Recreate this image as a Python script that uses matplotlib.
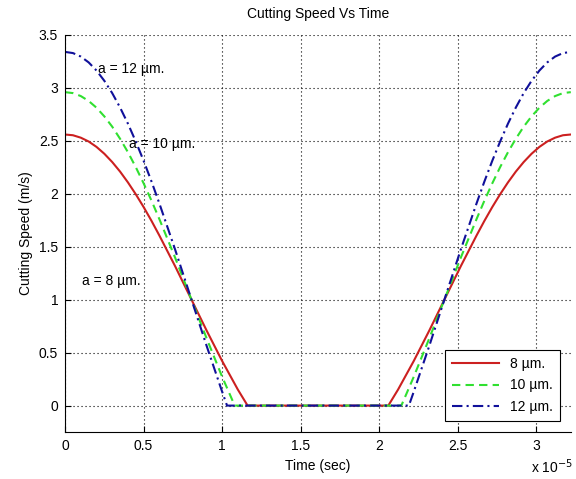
import numpy as np
import matplotlib
matplotlib.use('Agg')
from matplotlib import pyplot as plt
from matplotlib.ticker import FuncFormatter, MultipleLocator

plt.rcParams['font.family'] = ['Liberation Sans', 'DejaVu Sans']
plt.rcParams['font.size'] = 10

# time in units of 1e-5 s, speed in m/s
t_8  = [0, 0.05, 0.1, 0.15, 0.2, 0.25, 0.3, 0.35, 0.4, 0.45, 0.5, 0.55, 0.6, 0.7, 0.8, 0.9,
        1.0, 1.1, 1.162, 2.058, 2.12, 2.22, 2.32, 2.42, 2.52, 2.62, 2.67, 2.72, 2.77, 2.82,
        2.87, 2.92, 2.97, 3.02, 3.07, 3.12, 3.17, 3.22]
v_8  = [2.56, 2.553, 2.53, 2.494, 2.443, 2.378, 2.30, 2.21, 2.108, 1.996, 1.875, 1.745, 1.607,
        1.318, 1.015, 0.712, 0.421, 0.151, 0, 0, 0.151, 0.421, 0.712, 1.015, 1.318, 1.607,
        1.745, 1.875, 1.996, 2.108, 2.21, 2.30, 2.378, 2.443, 2.494, 2.53, 2.553, 2.56]

t_10 = [0, 0.05, 0.1, 0.15, 0.2, 0.25, 0.3, 0.35, 0.4, 0.45, 0.5, 0.55, 0.6, 0.7, 0.8, 0.9,
        1.0, 1.08, 2.141, 2.22, 2.32, 2.42, 2.52, 2.62, 2.67, 2.72, 2.77, 2.82, 2.87, 2.92,
        2.97, 3.02, 3.07, 3.12, 3.17, 3.22]
v_10 = [2.96, 2.951, 2.923, 2.877, 2.813, 2.731, 2.634, 2.52, 2.393, 2.252, 2.099, 1.936,
        1.762, 1.399, 1.019, 0.639, 0.272, 0, 0, 0.272, 0.639, 1.019, 1.399, 1.762, 1.936,
        2.099, 2.252, 2.393, 2.52, 2.634, 2.731, 2.813, 2.877, 2.923, 2.951, 2.96]

t_12 = [0, 0.05, 0.1, 0.15, 0.2, 0.25, 0.3, 0.35, 0.4, 0.45, 0.5, 0.55, 0.6, 0.7, 0.8, 0.9,
        1.0, 1.031, 2.189, 2.22, 2.32, 2.42, 2.52, 2.62, 2.67, 2.72, 2.77, 2.82, 2.87, 2.92,
        2.97, 3.02, 3.07, 3.12, 3.17, 3.22]
v_12 = [3.34, 3.329, 3.296, 3.241, 3.164, 3.067, 2.951, 2.815, 2.663, 2.494, 2.312, 2.117,
        1.91, 1.476, 1.023, 0.569, 0.131, 0, 0, 0.131, 0.569, 1.023, 1.476, 1.91, 2.117,
        2.312, 2.494, 2.663, 2.815, 2.951, 3.067, 3.164, 3.241, 3.296, 3.329, 3.34]

labels = ['8 \u00b5m.', '10 \u00b5m.', '12 \u00b5m.']
notes  = ['a = 8 \u00b5m.', 'a = 10 \u00b5m.', 'a = 12 \u00b5m.']
note_x = [0.106, 0.406, 0.209]
note_y = [1.18, 2.47, 3.18]

fig = plt.figure(figsize=(5.76, 4.79), dpi=100)
ax = fig.add_axes([0.113, 0.098, 0.878, 0.829])

ax.plot(np.array(t_8)*1e-5, v_8, color='#cc2020', lw=1.5, ls='-', label=labels[0])
ax.plot(np.array(t_10)*1e-5, v_10, color='#30e030', lw=1.5, dashes=[4, 2.5], label=labels[1])
ax.plot(np.array(t_12)*1e-5, v_12, color='#10109a', lw=1.5, dashes=[5, 2, 1, 2], label=labels[2])

for tx, ty, s in zip(note_x, note_y, notes):
    ax.text(tx*1e-5, ty, s, fontsize=10, va='center', ha='left')

ax.set_xlim(0, 3.22e-5)
ax.set_ylim(-0.25, 3.5)
ax.xaxis.set_major_locator(MultipleLocator(0.5e-5))
ax.yaxis.set_major_locator(MultipleLocator(0.5))
ax.xaxis.set_major_formatter(FuncFormatter(lambda v, p: '%g' % round(v*1e5, 3)))
ax.yaxis.set_major_formatter(FuncFormatter(lambda v, p: '%g' % v))
ax.tick_params(direction='in', length=4, labelsize=10, pad=5)

ax.spines['top'].set_visible(False)
ax.spines['right'].set_visible(False)
ax.grid(True, ls=(0, (1, 2.6)), color='k', lw=0.8)

ax.set_title('Cutting Speed Vs Time', fontsize=10, pad=12)
ax.set_xlabel('Time (sec)', fontsize=10)
ax.set_ylabel('Cutting Speed (m/s)', fontsize=10)
fig.text(0.922, 0.012, 'x 10$^{-5}$', fontsize=10)

leg = ax.legend(loc='lower right', fancybox=False, framealpha=1, edgecolor='k',
                handlelength=3.4, borderaxespad=0.8, borderpad=0.5, labelspacing=0.55)
leg.get_frame().set_linewidth(0.8)

fig.savefig('out.png', dpi=100)
